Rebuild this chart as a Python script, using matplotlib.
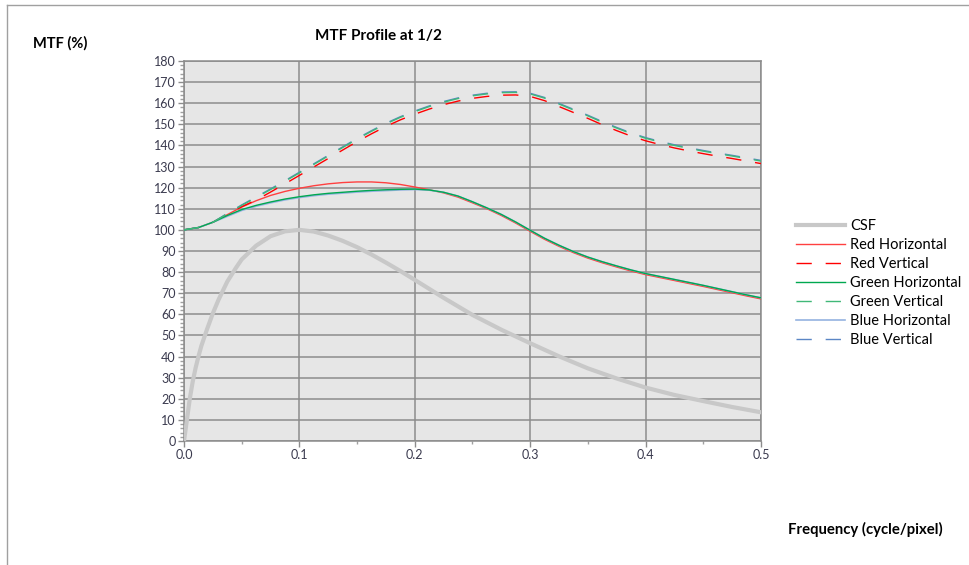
import numpy as np
import matplotlib.pyplot as plt
from matplotlib.lines import Line2D
from matplotlib.ticker import MultipleLocator

plt.rcParams['font.family'] = ['Lato', 'DejaVu Sans']

# Données
freq_csf = [0, 0.0025, 0.005, 0.0075, 0.01, 0.0125, 0.015, 0.02, 0.025, 0.03,
            0.0375, 0.045, 0.05, 0.0625, 0.075, 0.0875, 0.1, 0.1125, 0.125, 0.1375,
            0.15, 0.1625, 0.175, 0.1875, 0.2, 0.225, 0.25, 0.275, 0.3, 0.325,
            0.35, 0.375, 0.4, 0.425, 0.45, 0.475, 0.5]
csf = [0, 10, 20, 28, 34.5, 40, 45, 53, 60.5, 67,
       75.5, 82, 86, 92.5, 97, 99.3, 100, 99.2, 97.3, 94.8,
       91.8, 88.3, 84.5, 80.5, 76.3, 67.8, 59.7, 52.7, 46.3, 40.1,
       34.4, 29.6, 25.3, 21.8, 18.9, 16.1, 13.6]

freq = [0, 0.0125, 0.025, 0.0375, 0.05, 0.0625, 0.075, 0.0875, 0.1, 0.1125,
        0.125, 0.1375, 0.15, 0.1625, 0.175, 0.1875, 0.2, 0.2125, 0.225, 0.2375,
        0.25, 0.2625, 0.275, 0.2875, 0.3, 0.3125, 0.325, 0.3375, 0.35, 0.3625,
        0.375, 0.3875, 0.4, 0.4125, 0.425, 0.4375, 0.45, 0.4625, 0.475, 0.4875, 0.5]

red_h = [100, 101.1, 103.6, 107.2, 110.8, 113.8, 116.3, 118.2, 119.7, 120.9,
         121.8, 122.4, 122.7, 122.7, 122.3, 121.5, 120.3, 119, 117.5, 115.5,
         112.8, 110, 106.8, 103.2, 99.3, 95.5, 92.2, 89.2, 86.6, 84.4,
         82.4, 80.5, 78.8, 77.4, 76, 74.6, 73.2, 71.7, 70.2, 68.7, 67.3]
red_v = [100, 101.1, 103.6, 107.4, 111, 114.1, 117.9, 121.8, 125.8, 129.8,
         133.8, 137.8, 141.8, 145.5, 149, 152.1, 154.8, 157.2, 159.3, 161,
         162.3, 163.2, 163.8, 163.9, 163.2, 161.2, 158.4, 155.6, 152.8, 149.8,
         147, 144.4, 142.2, 140.4, 138.8, 137.4, 136.1, 134.9, 133.8, 132.6, 131.4]
green_h = [100, 101.1, 103.6, 106.8, 109.6, 111.6, 113.2, 114.6, 115.7, 116.6,
           117.3, 117.8, 118.3, 118.7, 119, 119.2, 119.3, 118.9, 117.8, 116,
           113.3, 110.4, 107.3, 103.7, 99.8, 96, 92.7, 89.7, 87.1, 84.9,
           82.9, 81, 79.3, 77.9, 76.5, 75.1, 73.7, 72.2, 70.7, 69.2, 67.8]
green_v = [100, 101.1, 103.6, 107.6, 111.6, 115.3, 119.1, 123, 127, 131,
           135, 139, 143, 146.7, 150.2, 153.3, 156, 158.4, 160.5, 162.2,
           163.5, 164.4, 165, 165.1, 164.4, 162.4, 159.6, 156.8, 154, 151,
           148.2, 145.6, 143.4, 141.6, 140, 138.6, 137.3, 136.1, 135, 133.8, 132.6]
blue_h = [100, 101.1, 103.6, 106.4, 109.2, 111.2, 112.8, 114.2, 115.3, 116.2,
          116.9, 117.4, 117.9, 118.3, 118.6, 118.9, 119.1, 118.8, 117.8, 116,
          113.3, 110.4, 107.3, 103.7, 99.8, 96, 92.7, 89.7, 87.1, 84.9,
          82.9, 81, 79.3, 77.9, 76.5, 75.1, 73.7, 72.2, 70.7, 69.2, 67.8]
blue_v = [100, 101.1, 103.6, 107.8, 111.8, 115.6, 119.4, 123.3, 127.3, 131.3,
          135.3, 139.3, 143.3, 147, 150.5, 153.6, 156.3, 158.7, 160.8, 162.5,
          163.8, 164.7, 165.3, 165.4, 164.7, 162.7, 159.9, 157.1, 154.3, 151.3,
          148.5, 145.9, 143.7, 141.9, 140.3, 138.9, 137.6, 136.4, 135.3, 134.1, 132.9]

fig = plt.figure(figsize=(9.69, 5.65), dpi=100)
ax = fig.add_axes([0.1899, 0.2195, 0.5954, 0.6726])
ax.set_facecolor('#e6e6e6')

dash = (11, 10)
ax.plot(freq_csf, csf, color='#c8c8c8', lw=3, label='CSF', zorder=3)
ax.plot(freq, red_h, color='#ff4040', lw=1, label='Red Horizontal', zorder=4)
ax.plot(freq, red_v, color='#ff0000', lw=1, dashes=dash, label='Red Vertical', zorder=4)
ax.plot(freq, blue_h, color='#95b3e0', lw=1.2, label='Blue Horizontal', zorder=4)
ax.plot(freq, blue_v, color='#5b86c5', lw=1, dashes=dash, label='Blue Vertical', zorder=4)
ax.plot(freq, green_h, color='#00a850', lw=1, label='Green Horizontal', zorder=5)
ax.plot(freq, green_v, color='#40b878', lw=1, dashes=dash, label='Green Vertical', zorder=5)

ax.set_xlim(0, 0.5)
ax.set_ylim(0, 180)
ax.xaxis.set_major_locator(MultipleLocator(0.1))
ax.xaxis.set_minor_locator(MultipleLocator(0.05))
ax.yaxis.set_major_locator(MultipleLocator(10))
ax.yaxis.set_minor_locator(MultipleLocator(2))
ax.set_xticklabels([f'{v:.1f}' for v in ax.get_xticks()])
ax.grid(True, which='major', color='#8c8c8c', lw=1.1, zorder=1)
ax.set_axisbelow(True)

for s in ax.spines.values():
    s.set_color('#8c8c8c')
    s.set_linewidth(1.1)

ax.tick_params(which='major', length=4, width=1, color='#8c8c8c',
               labelsize=9, labelcolor='#3a3a4e', pad=2)
ax.tick_params(which='minor', length=2.5, width=1, color='#a0a0a0')
ax.tick_params(axis='y', which='minor', length=3)

# Légende dans l'ordre du graphique
handles, labels = ax.get_legend_handles_labels()
order = ['CSF', 'Red Horizontal', 'Red Vertical', 'Green Horizontal',
         'Green Vertical', 'Blue Horizontal', 'Blue Vertical']
h = [handles[labels.index(o)] for o in order]
fig.legend(h, order, loc='upper left', bbox_to_anchor=(0.815, 0.622),
           frameon=False, fontsize=10.5, handlelength=3.4, handletextpad=0.35,
           labelspacing=0.34, borderaxespad=0)

fig.text(0.391, 0.937, 'MTF Profile at 1/2', ha='center', va='center',
         fontsize=11, fontweight='bold')
fig.text(0.034, 0.923, 'MTF (%)', ha='left', va='center', fontsize=10.5, fontweight='bold')
fig.text(0.973, 0.063, 'Frequency (cycle/pixel)', ha='right', va='center',
         fontsize=10.7, fontweight='bold')

# Cadre du graphique
fig.add_artist(Line2D([0.0072, 1], [0.991, 0.991], color='#a0a0a0', lw=1))
fig.add_artist(Line2D([0.0072, 0.0072], [0, 0.991], color='#a0a0a0', lw=1))

fig.savefig('out.png', dpi=100)
